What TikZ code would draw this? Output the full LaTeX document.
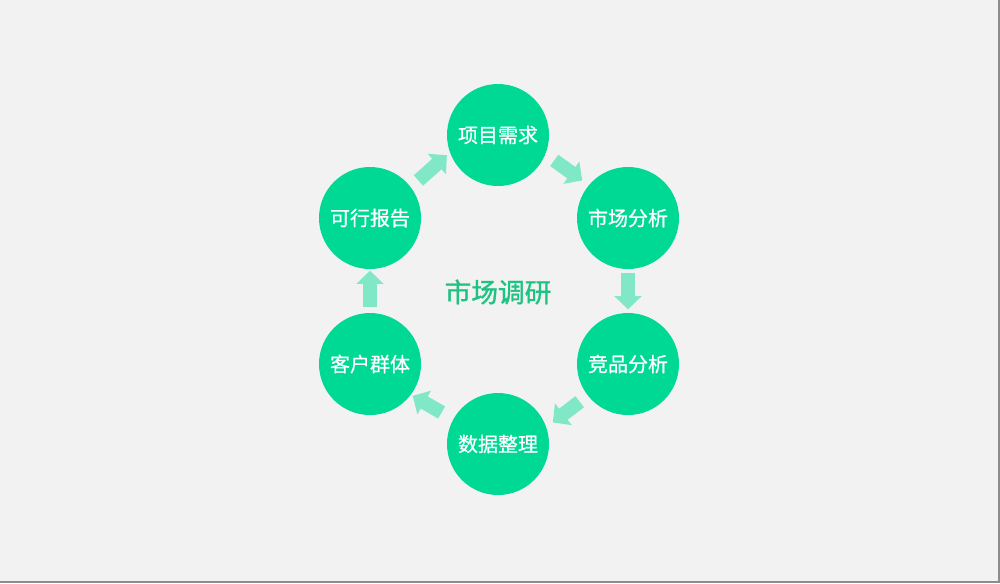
\documentclass[tikz,border=0pt]{standalone}
\usepackage{fontspec}
\setmainfont{Noto Sans CJK SC}
\newfontfamily\stagefont[FakeBold=0.6]{Noto Sans CJK SC}
\newfontfamily\headfont[FakeBold=1.2]{Noto Sans CJK SC}
\usepackage{tikz}
\usetikzlibrary{arrows.meta,positioning}
\definecolor{stepgreen}{RGB}{0,217,147}
\definecolor{flowgreen}{RGB}{128,232,198}
\definecolor{titlegreen}{RGB}{31,194,130}
\definecolor{paper}{RGB}{242,242,242}
\definecolor{rim}{RGB}{140,140,140}

\begin{document}
\begin{tikzpicture}[x=0.75pt,y=-0.75pt]

\tikzset{stage/.style={circle,fill=stepgreen,text=white,minimum size=76.5pt,inner sep=0pt,
                       font=\stagefont\fontsize{15pt}{18pt}\selectfont},
         flow/.style={draw=flowgreen,line width=10.5pt,-{Triangle[width=20pt,length=10pt]}}}

\fill[paper] (0,0) rectangle (1000,583);
\useasboundingbox (0,0) rectangle (1000,583);
\draw[rim,line width=1.5pt] (999,0) -- (999,582) -- (0,582);

\node[stage] (demand) at (498,135) {项目需求};
\node[stage] (market) at (628,218) {市场分析};
\node[stage] (rival)  at (628,364) {竞品分析};
\node[stage] (data)   at (498,444) {数据整理};
\node[stage] (client) at (370,364) {客户群体};
\node[stage] (report) at (370,218) {可行报告};

\node[text=titlegreen,font=\headfont\fontsize{20pt}{24pt}\selectfont] (title) at (498,292) {市场调研};

% clockwise ring of arrows
\draw[flow,shorten <=8pt,shorten >=6pt] (demand.-22) -- (market.140);
\draw[flow,shorten <=3pt,shorten >=2.5pt] (market) -- (rival);
\draw[flow,shorten <=7.5pt,shorten >=6pt] (rival.218) -- (data.19);
\draw[flow,shorten <=10pt,shorten >=1.5pt] (data.151) -- (client.-37);
\draw[flow,shorten <=4.5pt,shorten >=1pt] (client) -- (report);
\draw[flow,shorten <=7.5pt,shorten >=3pt] (report.37) -- (demand.200);

\end{tikzpicture}
\end{document}
